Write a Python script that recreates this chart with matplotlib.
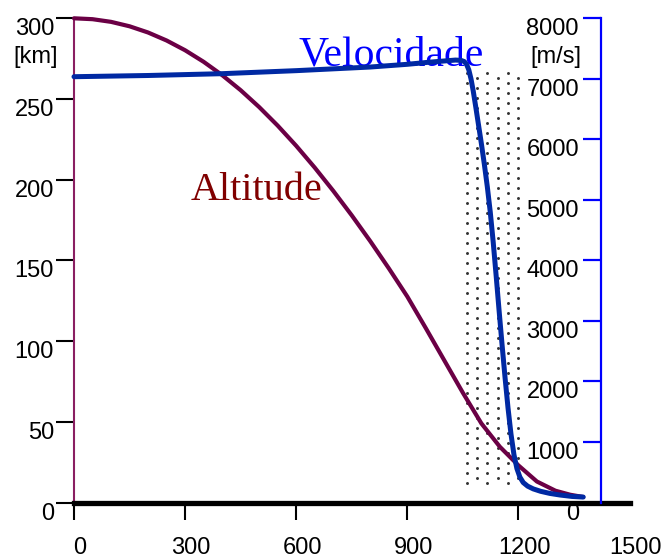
import numpy as np
import matplotlib
matplotlib.use("Agg")
import matplotlib.pyplot as plt
from matplotlib.transforms import offset_copy

# ---------------- data ----------------
alt_t = [0, 50, 100, 150, 200, 250, 300, 350, 400, 450, 500, 550, 600, 650,
         700, 750, 800, 850, 900, 950, 1000, 1050, 1100, 1150, 1200, 1250,
         1300, 1340, 1375]
alt_h = [300, 299.45, 297.8, 295.05, 291.2, 286.25, 280.2, 273.05, 264.8,
         255.45, 245, 233.5, 221, 207.5, 193.1, 177.9, 161.9, 145.1, 127.6,
         108, 88, 68, 49, 34.5, 23, 13, 7.3, 4.8, 3.4]

vel_t = [0, 200, 400, 600, 800, 900, 960, 1000, 1030, 1045, 1054, 1060, 1066,
         1072, 1078, 1085, 1092, 1100, 1108, 1116, 1124, 1132, 1140, 1148,
         1156, 1164, 1172, 1180, 1188, 1196, 1204, 1213, 1225, 1240, 1260,
         1285, 1312, 1345, 1375]
vel_v = [7035, 7055, 7085, 7135, 7195, 7240, 7275, 7295, 7310, 7305, 7285,
         7240, 7150, 7000, 6800, 6530, 6250, 5930, 5590, 5220, 4800, 4300,
         3740, 3160, 2600, 2060, 1560, 1130, 790, 560, 420, 330, 270, 225,
         185, 150, 124, 100, 90]

x_ticks = [0, 300, 600, 900, 1200, 1500]
x_tick_marks = [0, 300, 600, 900, 1200]
alt_ticks = [0, 50, 100, 150, 200, 250, 300]
vel_ticks = [0, 1000, 2000, 3000, 4000, 5000, 6000, 7000, 8000]

band_t = (1061, 1199)   # dotted band (time range)
band_h = (12, 267)      # dotted band (altitude range)
band_cols = 6
right_axis_t = 1423

tick_font, tick_size = "Liberation Sans", 17
serif = "Liberation Serif"

# ---------------- figure ----------------
W, H = 663, 559
fig = plt.figure(figsize=(W / 100, H / 100), dpi=100)
ax = fig.add_axes([74 / W, 56.5 / H, 555.5 / W, 484.2 / H])
ax.set_xlim(0, 1500)
ax.set_ylim(0, 300)

for s in ["top", "right"]:
    ax.spines[s].set_visible(False)
ax.spines["left"].set_color("#8a1f62")
ax.spines["left"].set_linewidth(1.5)
ax.spines["bottom"].set_color("black")
ax.spines["bottom"].set_linewidth(3.8)
ax.spines["bottom"].set_zorder(5)

ax.set_yticks(alt_ticks)
ax.tick_params(axis="y", direction="out", length=13, width=1.5,
               color="black", labelleft=False)
ax.set_xticks(x_tick_marks)
ax.tick_params(axis="x", direction="out", length=12, width=1.5,
               color="black", labelbottom=False)

# dotted band
row_step = 10 / (484.2 / 300)  # ~10 px spacing in km
col_x = np.linspace(band_t[0], band_t[1], band_cols)
dx, dy = [], []
for i, cx in enumerate(col_x):
    start = band_h[0] + (row_step / 2 if i % 2 else 0)
    ys = np.arange(start, band_h[1], row_step)
    dx.extend([cx] * len(ys))
    dy.extend(ys)
ax.scatter(dx, dy, s=4.5, color="#333333", linewidths=0, zorder=1)

# altitude curve
ax.plot(alt_t, alt_h, color="#6b0045", lw=3.0, clip_on=False, zorder=3,
        solid_capstyle="round", solid_joinstyle="round")

# velocity axis
ax2 = ax.twinx()
ax2.set_ylim(0, 8000)
for s in ["top", "left", "bottom"]:
    ax2.spines[s].set_visible(False)
ax2.spines["right"].set_position(("data", right_axis_t))
ax2.spines["right"].set_color("#0000ff")
ax2.spines["right"].set_linewidth(1.6)
ax2.set_yticks(vel_ticks[1:])
ax2.tick_params(axis="y", direction="in", length=13, width=1.6,
                color="#0000ff", labelright=False)
ax2.plot(vel_t, vel_v, color="#0029a3", lw=3.6, clip_on=False, zorder=4,
         solid_capstyle="round", solid_joinstyle="round")

# ---------------- labels ----------------
tk = dict(family=tick_font, fontsize=tick_size, color="black")

tr_left = offset_copy(ax.get_yaxis_transform(), fig=fig, x=-20, y=0, units="dots")
for v in alt_ticks:
    ax.text(0, v, str(v), transform=tr_left, ha="right", va="top", **tk)

tr_bottom = offset_copy(ax.get_xaxis_transform(), fig=fig, x=6, y=-34, units="dots")
for v in x_ticks:
    ax.text(v, 0, str(v), transform=tr_bottom, ha="center", va="top", **tk)

tr_right = offset_copy(ax2.transData, fig=fig, x=-22, y=0, units="dots")
for v in vel_ticks:
    ax2.text(right_axis_t, v, str(v), transform=tr_right, ha="right",
             va="top", **tk)

fig.text(13 / W, 1 - 46 / H, "[km]", ha="left", va="top", **tk)
fig.text(530 / W, 1 - 46 / H, "[m/s]", ha="left", va="top", **tk)

ax.text(605, 271, "Velocidade", family=serif, fontsize=30, color="#0000ff",
        ha="left", va="baseline", zorder=2)
ax.text(316, 187.4, "Altitude", family=serif, fontsize=29, color="#800000",
        ha="left", va="baseline", zorder=2)

fig.savefig("out.png", dpi=100)
